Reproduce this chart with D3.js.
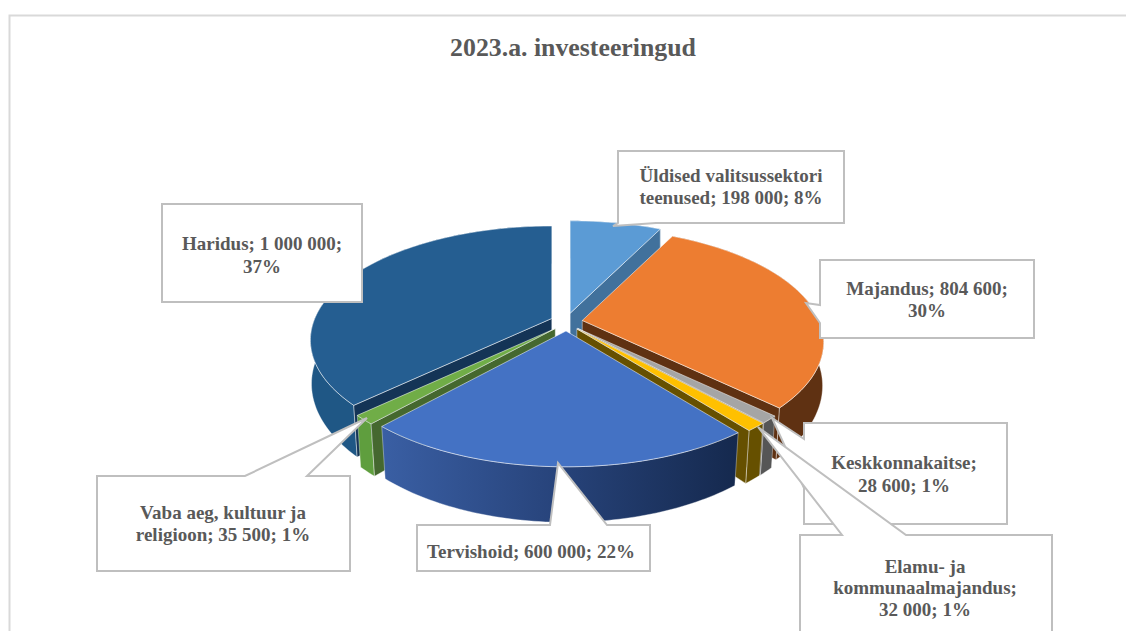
<!DOCTYPE html>
<html>
<head>
<meta charset="utf-8">
<script src="https://cdn.jsdelivr.net/npm/d3@7"></script>
<style>
    html, body { margin: 0; padding: 0; background: #fff; overflow: hidden; }
    svg { display: block; }
</style>
</head>
<body>
<svg id="grafik" width="1126" height="631"></svg>
<script>
const title = "2023.a. investeeringud";

// values
const categories = ["Üldised valitsussektori teenused", "Majandus", "Keskkonnakaitse", "Elamu- ja kommunaalmajandus", "Tervishoid", "Vaba aeg, kultuur ja religioon", "Haridus"];
const amounts = [198000, 804600, 28600, 32000, 600000, 35500, 1000000];

const labelLines = [
    ["Üldised valitsussektori", "teenused; 198 000; 8%"],
    ["Majandus; 804 600;", "30%"],
    ["Keskkonnakaitse;", "28 600; 1%"],
    ["Elamu- ja", "kommunaalmajandus;", "32 000; 1%"],
    ["Tervishoid; 600 000; 22%"],
    ["Vaba aeg, kultuur ja", "religioon; 35 500; 1%"],
    ["Haridus; 1 000 000;", "37%"]
];

// colours per category
const topColors = ["#5b9bd5", "#ed7d31", "#a5a5a5", "#ffc000", "#4472c4", "#70ad47", "#255e91"];
const wallColors = ["#41719c", "#5f3112", "#565656", "#665000", "url(#tervisWall)", "#5f9e3e", "#1f5785"];
const cutColors = ["#41719c", "#5f3112", "#454545", "#665000", "#20386b", "#45682f", "#143456"];

// callout shapes, drawn in this order
const calloutOrder = [0, 1, 6, 5, 4, 2, 3];
const calloutShapes = [
    [[618, 151], [844, 151], [844, 223], [656, 223], [613, 226], [618, 223]],
    [[820, 260], [1034, 260], [1034, 338], [820, 338], [820, 323], [806, 303], [820, 305]],
    [[804, 423], [1007, 423], [1007, 524], [804, 524], [804, 488], [772, 418], [804, 439]],
    [[800, 535], [842, 535], [758, 427], [906, 535], [1052, 535], [1052, 645], [800, 645]],
    [[417, 525], [550, 525], [558, 463], [607, 525], [650, 525], [650, 571], [417, 571]],
    [[97, 476], [245, 476], [367, 418], [307, 476], [350, 476], [350, 571], [97, 571]],
    [[162, 204], [362, 204], [362, 302], [162, 302]]
];
const textCenters = [731, 927, 904, 925, 531, 223, 262];
const textBaselines = [[182, 204], [295, 317], [469, 492], [573, 594, 616], [558], [519, 541], [250, 273]];

const cx = 566.5, cy = 322;
const radiusX = 237, radiusY = 110;
const perspective = 0.19;
const depth = 45;
const explodeX = 16, explodeY = 9;

const svg = d3.select("#grafik");

// frame of the chart, right and bottom sides are cut off in the picture
svg.append("path")
    .attr("d", "M9.5,631V15.5H1126")
    .attr("fill", "none")
    .attr("stroke", "#d9d9d9")
    .attr("stroke-width", 2);

svg.append("text")
    .attr("x", 573)
    .attr("y", 56)
    .attr("text-anchor", "middle")
    .attr("font-family", "'Liberation Serif'")
    .attr("font-weight", "bold")
    .attr("font-size", 25.8)
    .attr("fill", "#595959")
    .text(title);

const grad = svg.append("defs").append("linearGradient")
    .attr("id", "tervisWall")
    .attr("gradientUnits", "userSpaceOnUse")
    .attr("x1", 381).attr("x2", 737)
    .attr("y1", 0).attr("y2", 0);
grad.append("stop").attr("offset", "0").attr("stop-color", "#3a5fa4");
grad.append("stop").attr("offset", "0.5").attr("stop-color", "#27437a");
grad.append("stop").attr("offset", "1").attr("stop-color", "#15294e");

const slices = d3.pie().sort(null).value(d => d)(amounts);

// pie plane -> screen, z 0 is the top face and 1 the bottom face
function project(angle, r, z, slice) {
    const mid = (slice.startAngle + slice.endAngle) / 2;
    const px = r * Math.sin(angle);
    const p = -r * Math.cos(angle);
    const w = 1 / (1 - perspective * p);
    const shrink = 1 - 0.025 * z * Math.max(0, p);
    return [
        cx + explodeX * Math.sin(mid) + radiusX * px * w * shrink,
        cy - explodeY * Math.cos(mid) + radiusY * p * w + depth * w * z
    ];
}

function arcPoints(a0, a1, z, slice) {
    const n = Math.max(2, Math.ceil((a1 - a0) / 0.02));
    return d3.range(n + 1).map(i => project(a0 + (a1 - a0) * i / n, 1, z, slice));
}

const line = d3.line();
const closed = pts => line(pts) + "Z";

const layer = svg.append("g");

function drawFace(pts, fill, opacity) {
    layer.append("path")
        .attr("d", closed(pts))
        .attr("fill", fill)
        .attr("stroke", "#fff")
        .attr("stroke-opacity", opacity)
        .attr("stroke-width", 0.8)
        .attr("stroke-linejoin", "round");
}

// back slices first, the small ones and the front slice go on top
const drawOrder = [0, 6, 1, 2, 3, 5, 4];
drawOrder.forEach(i => {
    const s = slices[i];
    const a0 = s.startAngle, a1 = s.endAngle;

    const outer = arcPoints(a0, a1, 0, s).concat(arcPoints(a0, a1, 1, s).reverse());
    drawFace(outer, wallColors[i], 0.45);

    // cut side, only when it faces the viewer
    const cutAngle = a1 <= Math.PI ? a1 : (a0 >= Math.PI ? a0 : null);
    if (cutAngle !== null) {
        const cut = [
            project(cutAngle, 0, 0, s),
            project(cutAngle, 1, 0, s),
            project(cutAngle, 1, 1, s),
            project(cutAngle, 0, 1, s)
        ];
        drawFace(cut, cutColors[i], 0.55);
    }

    const top = [project(a0, 0, 0, s)].concat(arcPoints(a0, a1, 0, s));
    drawFace(top, topColors[i], 0.65);
});

// label callouts
calloutOrder.forEach(i => {
    svg.append("path")
        .attr("d", closed(calloutShapes[i]))
        .attr("fill", "#fff")
        .attr("stroke", "#bfbfbf")
        .attr("stroke-width", 2)
        .attr("stroke-linejoin", "miter");

    svg.append("g")
        .selectAll("text")
        .data(labelLines[i])
        .join("text")
        .attr("x", textCenters[i])
        .attr("y", (d, j) => textBaselines[i][j])
        .attr("text-anchor", "middle")
        .attr("font-family", "'Liberation Serif'")
        .attr("font-weight", "bold")
        .attr("font-size", 19)
        .attr("fill", "#595959")
        .text(d => d);
});
</script>
</body>
</html>
